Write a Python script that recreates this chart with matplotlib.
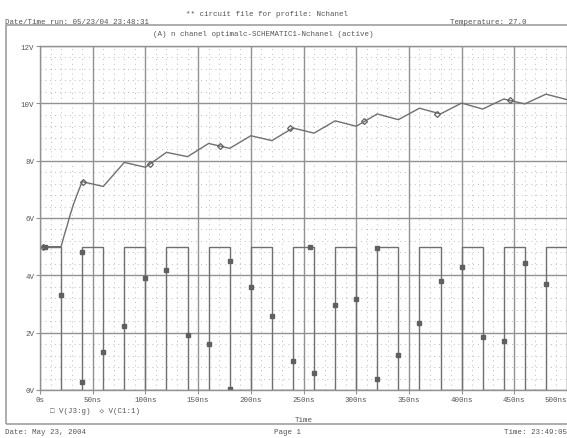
import numpy as np
import matplotlib
matplotlib.use("Agg")
import matplotlib.pyplot as plt
from matplotlib.patches import Rectangle

# Données lues sur la capture PSpice
# V(J3:g) : signal de grille carré 0/5 V, période 40 ns
gate_t = [0, 20, 40, 60, 80, 100, 120, 140, 160, 180, 200, 220, 240, 260,
          280, 300, 320, 340, 360, 380, 400, 420, 440, 460, 480, 500]
gate_v = [5, 0, 5, 0, 5, 0, 5, 0, 5, 0, 5, 0, 5, 0,
          5, 0, 5, 0, 5, 0, 5, 0, 5, 0, 5, 5]

# V(C1:1) : tension du condensateur
c1_t = [0, 20, 23, 25.5, 28.5, 31.5, 35, 40, 60, 80, 100, 120, 140, 160, 180,
        200, 220, 240, 260, 280, 300, 320, 340, 360, 380, 400, 420, 440, 460,
        480, 500]
c1_v = [5.0, 5.0, 5.4, 5.7, 6.1, 6.45, 6.8, 7.27, 7.1, 7.94, 7.77, 8.29, 8.14,
        8.6, 8.43, 8.87, 8.70, 9.14, 8.96, 9.39, 9.2, 9.63, 9.43, 9.83, 9.63,
        10.01, 9.8, 10.15, 9.98, 10.32, 10.13]

# marqueurs posés par PSpice sur chaque trace
gate_mk_t = [5, 20, 40, 40, 60, 80, 100, 120, 140, 160, 180, 180, 200, 220,
             240, 256, 260, 280, 300, 320, 320, 340, 360, 380, 400, 420, 440,
             460, 480]
gate_mk_v = [5.0, 3.3, 4.8, 0.28, 1.32, 2.24, 3.9, 4.2, 1.93, 1.62, 4.5, 0.02,
             3.58, 2.57, 1.0, 5.0, 0.59, 2.95, 3.18, 4.94, 0.38, 1.22, 2.35,
             3.79, 4.3, 1.85, 1.71, 4.42, 3.7]
c1_mk_t = [3, 41, 104, 171, 237, 307, 377, 446]
c1_mk_v = [5.0, 7.27, 7.88, 8.5, 9.14, 9.4, 9.63, 10.13]

x_ticks = [0, 50, 100, 150, 200, 250, 300, 350, 400, 450, 500]
x_labels = ["0s", "50ns", "100ns", "150ns", "200ns", "250ns", "300ns",
            "350ns", "400ns", "450ns", "500ns"]
y_ticks = [0, 2, 4, 6, 8, 10, 12]
y_labels = ["0V", "2V", "4V", "6V", "8V", "10V", "12V"]

W, H = 567, 439
police = ["Liberation Mono", "DejaVu Sans Mono"]
fs = 5.4
txt = "#555555"
trace = "#707070"

fig = plt.figure(figsize=(W / 100, H / 100), dpi=100)
fig.patch.set_facecolor("white")

# cadre de la page
fig.patches.append(Rectangle((6 / W, 1 - 425 / H), 1.2, (425 - 26) / H,
                             transform=fig.transFigure, fill=False,
                             edgecolor="#a0a0a0", linewidth=1.2))

ax = fig.add_axes([40 / W, 1 - 391 / H, (W - 40) / W, (391 - 47) / H])
ax.set_xlim(0, 500)
ax.set_ylim(0, 12)

# grille secondaire pointillée puis grille principale
ax.set_xticks(np.arange(0, 501, 10), minor=True)
ax.set_yticks(np.arange(0, 12.01, 0.4), minor=True)
ax.grid(which="minor", color="#bdbdbd", linestyle=(0, (1, 4)), linewidth=0.7)
ax.grid(which="major", color="#929292", linestyle="-", linewidth=1.0)
ax.set_axisbelow(True)

ax.set_xticks(x_ticks)
ax.set_xticklabels(x_labels)
ax.set_yticks(y_ticks)
ax.set_yticklabels(y_labels)
ax.tick_params(which="minor", length=0)
ax.tick_params(which="major", length=3, color="#929292", labelcolor=txt,
               labelsize=fs, pad=1)
for lab in ax.get_xticklabels():
    lab.set_family(police)
for lab in ax.get_yticklabels():
    lab.set_family(police)
ax.get_xticklabels()[-1].set_horizontalalignment("right")

for s in ax.spines.values():
    s.set_color("#929292")
    s.set_linewidth(1.0)

# traces
ax.step(gate_t, gate_v, where="post", color=trace, linewidth=1.0)
ax.plot(c1_t, c1_v, color=trace, linewidth=1.0)
ax.plot(gate_mk_t, gate_mk_v, linestyle="none", marker="s", markersize=2.5,
        color="#606060")
ax.plot(c1_mk_t, c1_mk_v, linestyle="none", marker="D", markersize=3.0,
        markerfacecolor="none", markeredgecolor="#606060", markeredgewidth=0.9)

# textes de la page
fig.text(267 / W, 1 - 14 / H, "** circuit file for profile: Nchanel",
         ha="center", va="center", fontsize=fs, family=police, color=txt)
fig.text(5 / W, 1 - 23 / H, "Date/Time run: 05/23/04 23:48:31",
         ha="left", va="center", fontsize=fs, family=police, color=txt)
fig.text(450 / W, 1 - 23 / H, "Temperature: 27.0",
         ha="left", va="center", fontsize=fs, family=police, color=txt)
fig.text(263 / W, 1 - 35 / H, "(A) n chanel optimalc-SCHEMATIC1-Nchanel (active)",
         ha="center", va="center", fontsize=fs, family=police, color=txt)
fig.text(50 / W, 1 - 412 / H, "\u25a1 V(J3:g)  \u25c7 V(C1:1)",
         ha="left", va="center", fontsize=fs, family=police, color=txt)
fig.text(304 / W, 1 - 421 / H, "Time",
         ha="center", va="center", fontsize=fs, family=police, color=txt)
fig.text(5 / W, 1 - 433 / H, "Date: May 23, 2004",
         ha="left", va="center", fontsize=fs, family=police, color=txt)
fig.text(288 / W, 1 - 433 / H, "Page 1",
         ha="center", va="center", fontsize=fs, family=police, color=txt)
fig.text(504 / W, 1 - 433 / H, "Time: 23:49:05",
         ha="left", va="center", fontsize=fs, family=police, color=txt)

fig.savefig("out.png", dpi=100)
